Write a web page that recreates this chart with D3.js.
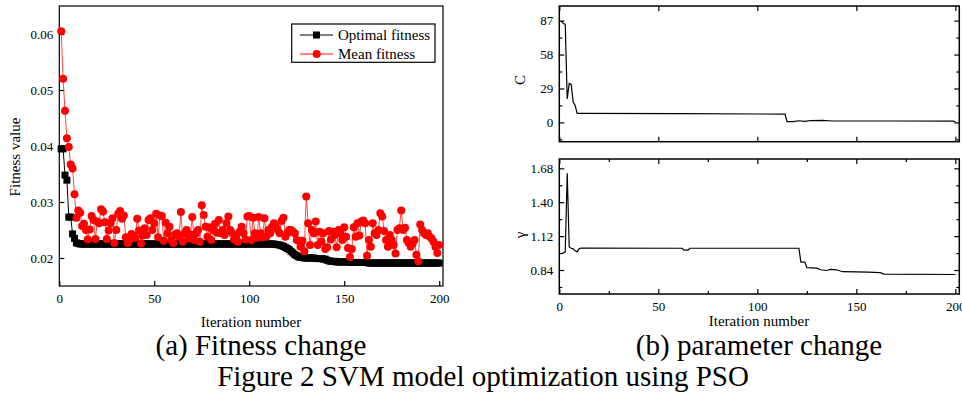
<!DOCTYPE html>
<html>
<head>
<meta charset="utf-8">
<script src="https://cdnjs.cloudflare.com/ajax/libs/d3/7.8.5/d3.min.js"></script>
<style>
  body { margin: 0; background: #fff; }
  svg { display: block; font-family: "Liberation Serif", "Times New Roman", serif; }
</style>
</head>
<body>
<svg id="fig" width="962" height="399"></svg>
<script>
// ---- data ----
var iterTicks = [0, 50, 100, 150, 200];
var fitTicks = [0.02, 0.03, 0.04, 0.05, 0.06];
var cTicks = [0, 29, 58, 87];
var cMinor = [-14.5, 14.5, 43.5, 72.5];
var gTicks = [0.84, 1.12, 1.40, 1.68];
var gMinor = [0.70, 0.98, 1.26, 1.54];
var iterMinor = [25, 75, 125, 175];

// optimal fitness, iterations 1..200
var optimal = [
  0.0395,0.0395,0.0348,0.0339,0.0273,0.0273,0.0243,0.0235,0.0227,0.0226,
  0.0225,0.0225,0.0225,0.0225,0.0225,0.0225,0.0225,0.0225,0.0225,0.0225,
  0.0225,0.0225,0.0225,0.0225,0.0225,0.0225,0.0225,0.0225,0.0225,0.0225,
  0.0225,0.0225,0.0225,0.0225,0.0225,0.0225,0.0225,0.0225,0.0225,0.0225,
  0.0225,0.0225,0.0225,0.0225,0.0225,0.0225,0.0225,0.0225,0.0225,0.0225,
  0.0225,0.0225,0.0225,0.0225,0.0225,0.0225,0.0225,0.0225,0.0225,0.0225,
  0.0225,0.0225,0.0225,0.0225,0.0225,0.0225,0.0225,0.0225,0.0225,0.0225,
  0.0225,0.0225,0.0225,0.0225,0.0225,0.0225,0.0225,0.0225,0.0225,0.0225,
  0.0225,0.0225,0.0225,0.0225,0.0225,0.0225,0.0225,0.0225,0.0225,0.0225,
  0.0225,0.0225,0.0225,0.0225,0.0225,0.0225,0.0225,0.0225,0.0225,0.0225,
  0.0225,0.0225,0.0225,0.0225,0.0225,0.0225,0.0225,0.0225,0.0225,0.0225,
  0.0225,0.0225,0.0225,0.0224,0.0224,0.0223,0.0222,0.0221,0.0219,0.0217,
  0.0215,0.0212,0.0209,0.0206,0.0204,0.0202,0.0201,0.0201,0.0200,0.0200,
  0.0200,0.0200,0.0200,0.0200,0.0199,0.0199,0.0199,0.0199,0.0198,0.0198,
  0.0196,0.0195,0.0194,0.0194,0.0194,0.0193,0.0193,0.0193,0.0193,0.0193,
  0.0193,0.0193,0.0193,0.0192,0.0192,0.0192,0.0192,0.0192,0.0192,0.0192,
  0.0192,0.0192,0.0191,0.0191,0.0191,0.0191,0.0191,0.0191,0.0191,0.0191,
  0.0191,0.0191,0.0191,0.0191,0.0191,0.0191,0.0191,0.0191,0.0191,0.0191,
  0.0191,0.0191,0.0191,0.0191,0.0191,0.0191,0.0191,0.0191,0.0191,0.0191,
  0.0191,0.0191,0.0191,0.0191,0.0191,0.0191,0.0191,0.0191,0.0191,0.0191
];

// mean fitness, iterations 1..200
var meanFit = [
  0.0605,0.0520,0.0463,0.0414,0.0398,0.0367,0.0360,0.0314,0.0272,0.0285,
  0.0281,0.0257,0.0261,0.0250,0.0233,0.0251,0.0275,0.0268,0.0234,0.0265,
  0.0262,0.0287,0.0283,0.0264,0.0234,0.0249,0.0262,0.0271,0.0227,0.0250,
  0.0279,0.0284,0.0270,0.0276,0.0237,0.0227,0.0232,0.0243,0.0240,0.0236,
  0.0270,0.0249,0.0226,0.0240,0.0253,0.0241,0.0268,0.0271,0.0250,0.0262,
  0.0279,0.0237,0.0276,0.0275,0.0231,0.0263,0.0244,0.0256,0.0232,0.0227,
  0.0242,0.0244,0.0238,0.0282,0.0229,0.0244,0.0250,0.0235,0.0242,0.0273,
  0.0232,0.0244,0.0250,0.0229,0.0294,0.0277,0.0256,0.0238,0.0255,0.0232,
  0.0250,0.0261,0.0245,0.0268,0.0244,0.0250,0.0241,0.0262,0.0274,0.0250,
  0.0244,0.0233,0.0238,0.0229,0.0247,0.0256,0.0244,0.0233,0.0274,0.0275,
  0.0232,0.0272,0.0244,0.0236,0.0273,0.0244,0.0237,0.0271,0.0238,0.0250,
  0.0244,0.0256,0.0262,0.0256,0.0250,0.0244,0.0266,0.0272,0.0238,0.0244,
  0.0250,0.0250,0.0247,0.0244,0.0232,0.0231,0.0220,0.0231,0.0212,0.0310,
  0.0262,0.0223,0.0250,0.0244,0.0265,0.0223,0.0247,0.0229,0.0244,0.0216,
  0.0219,0.0248,0.0233,0.0247,0.0241,0.0219,0.0250,0.0244,0.0232,0.0255,
  0.0238,0.0218,0.0202,0.0216,0.0255,0.0238,0.0262,0.0240,0.0265,0.0267,
  0.0262,0.0204,0.0232,0.0220,0.0262,0.0244,0.0241,0.0250,0.0280,0.0274,
  0.0248,0.0232,0.0220,0.0241,0.0232,0.0223,0.0208,0.0250,0.0253,0.0285,
  0.0250,0.0254,0.0232,0.0227,0.0220,0.0226,0.0232,0.0206,0.0194,0.0260,
  0.0250,0.0244,0.0241,0.0244,0.0238,0.0235,0.0229,0.0220,0.0209,0.0223
];

// parameter C: [iteration, value]
var cPath = [
  [1,86.7],[2,84.5],[3,84.0],[4,20.0],[5,33.3],[6,32.5],[7,17.6],[8,14.5],[9,7.7],
  [10,7.7],[60,7.5],[114,7.1],[115,0.6],[118,0.6],[121,1.4],[124,0.8],[127,1.6],
  [133,1.7],[138,1.2],[170,1.2],[199,1.1],[200,0.3]
];

// parameter gamma: [iteration, value]
var gPath = [
  [1,0.977],[2,0.980],[3,0.990],[4,1.640],[5,1.030],[6,1.020],[7,1.015],[8,1.000],
  [9,0.990],[10,1.015],[11,1.022],[62,1.020],[63,1.005],[65,1.005],[66,1.020],
  [121,1.020],[122,0.905],[124,0.905],[125,0.860],[130,0.855],[132,0.842],
  [135,0.836],[137,0.845],[140,0.842],[143,0.826],[150,0.824],[156,0.822],
  [162,0.818],[164,0.806],[200,0.803]
];

var svg = d3.select("#fig");

// ---------- (a) fitness ----------
var x1 = d3.scaleLinear().domain([0, 202]).range([59.3, 443]);
var y1 = d3.scaleLinear().domain([0.015, 0.065]).range([286, 6]);

var ga = svg.append("g");

ga.append("g")
  .attr("transform", "translate(0,286)")
  .call(d3.axisBottom(x1).tickValues(iterTicks).tickSizeInner(-5).tickSizeOuter(0).tickPadding(8))
  .call(styleAxis);

ga.append("g")
  .attr("transform", "translate(59.3,0)")
  .call(d3.axisLeft(y1).tickValues(fitTicks).tickFormat(d3.format(".2f")).tickSizeInner(-5).tickSizeOuter(0).tickPadding(6))
  .call(styleAxis);

ga.append("rect")
  .attr("x", 59.3).attr("y", 6)
  .attr("width", 443 - 59.3).attr("height", 280)
  .attr("fill", "none").attr("stroke", "#000").attr("stroke-width", 1.2);

var optLine = d3.line().x(function(d, i) { return x1(i + 1); }).y(function(d) { return y1(d); });

ga.append("path").datum(meanFit)
  .attr("d", optLine).attr("fill", "none").attr("stroke", "#ff3030").attr("stroke-width", 0.9);

ga.append("path").datum(optimal)
  .attr("d", optLine).attr("fill", "none").attr("stroke", "#000").attr("stroke-width", 1);

ga.selectAll("rect.opt").data(optimal).enter().append("rect")
  .attr("class", "opt")
  .attr("x", function(d, i) { return x1(i + 1) - 3.5; })
  .attr("y", function(d) { return y1(d) - 3.5; })
  .attr("width", 7).attr("height", 7)
  .attr("fill", "#000");

ga.selectAll("circle.mean").data(meanFit).enter().append("circle")
  .attr("class", "mean")
  .attr("cx", function(d, i) { return x1(i + 1); })
  .attr("cy", function(d) { return y1(d); })
  .attr("r", 4)
  .attr("fill", "#ff0000");

// legend
var lg = ga.append("g");
lg.append("rect").attr("x", 291.7).attr("y", 24).attr("width", 143.3).attr("height", 38.3)
  .attr("fill", "#fff").attr("stroke", "#000").attr("stroke-width", 1.2);
lg.append("line").attr("x1", 300).attr("x2", 333).attr("y1", 35).attr("y2", 35).attr("stroke", "#000");
lg.append("rect").attr("x", 313).attr("y", 31.5).attr("width", 7).attr("height", 7).attr("fill", "#000");
lg.append("text").attr("x", 338).attr("y", 40).attr("font-size", 15).text("Optimal fitness");
lg.append("line").attr("x1", 300).attr("x2", 333).attr("y1", 54).attr("y2", 54).attr("stroke", "#ff6060").attr("stroke-width", 1.5);
lg.append("circle").attr("cx", 316.7).attr("cy", 54).attr("r", 4).attr("fill", "#ff0000");
lg.append("text").attr("x", 338).attr("y", 59).attr("font-size", 15).text("Mean fitness");

ga.append("text").attr("transform", "translate(20,157) rotate(-90)")
  .attr("text-anchor", "middle").attr("font-size", 15).text("Fitness value");
ga.append("text").attr("x", 251).attr("y", 327)
  .attr("text-anchor", "middle").attr("font-size", 15).text("Iteration number");

// ---------- (b) parameters ----------
var x2 = d3.scaleLinear().domain([0, 202]).range([559.3, 959.3]);
var yC = d3.scaleLinear().domain([-16.5, 99.5]).range([141.7, 6]);
var yG = d3.scaleLinear().domain([0.642, 1.757]).range([294, 159]);

var gb = svg.append("g");

function panel(ys, top, bottom, major, minor, fmt, xMinor, showX) {
  var g = gb.append("g");
  // left / right
  g.append("g").attr("transform", "translate(559.3,0)")
    .call(d3.axisLeft(ys).tickValues(major).tickFormat(fmt).tickSizeInner(-5).tickSizeOuter(0).tickPadding(6))
    .call(styleAxis);
  g.append("g").attr("transform", "translate(559.3,0)")
    .call(d3.axisLeft(ys).tickValues(minor).tickFormat("").tickSizeInner(-3).tickSizeOuter(0))
    .call(styleAxis);
  g.append("g").attr("transform", "translate(959.3,0)")
    .call(d3.axisRight(ys).tickValues(major).tickFormat("").tickSizeInner(-5).tickSizeOuter(0))
    .call(styleAxis);
  g.append("g").attr("transform", "translate(959.3,0)")
    .call(d3.axisRight(ys).tickValues(minor).tickFormat("").tickSizeInner(-3).tickSizeOuter(0))
    .call(styleAxis);
  // top / bottom
  g.append("g").attr("transform", "translate(0," + top + ")")
    .call(d3.axisTop(x2).tickValues(iterTicks).tickFormat("").tickSizeInner(-5).tickSizeOuter(0))
    .call(styleAxis);
  g.append("g").attr("transform", "translate(0," + bottom + ")")
    .call(d3.axisBottom(x2).tickValues(iterTicks).tickFormat(showX ? null : "").tickSizeInner(-5).tickSizeOuter(0).tickPadding(8))
    .call(styleAxis);
  if (xMinor) {
    g.append("g").attr("transform", "translate(0," + top + ")")
      .call(d3.axisTop(x2).tickValues(iterMinor).tickFormat("").tickSizeInner(-3).tickSizeOuter(0))
      .call(styleAxis);
    g.append("g").attr("transform", "translate(0," + bottom + ")")
      .call(d3.axisBottom(x2).tickValues(iterMinor).tickFormat("").tickSizeInner(-3).tickSizeOuter(0))
      .call(styleAxis);
  }
  g.append("rect").attr("x", 559.3).attr("y", top).attr("width", 400).attr("height", bottom - top)
    .attr("fill", "none").attr("stroke", "#000").attr("stroke-width", 1.5);
  return g;
}

var pc = panel(yC, 6, 141.7, cTicks, cMinor, d3.format("d"), false, false);
var pg = panel(yG, 159, 294, gTicks, gMinor, d3.format(".2f"), true, true);

var line2C = d3.line().x(function(d) { return x2(d[0]); }).y(function(d) { return yC(d[1]); });
var line2G = d3.line().x(function(d) { return x2(d[0]); }).y(function(d) { return yG(d[1]); });

pc.append("path").datum(cPath).attr("d", line2C)
  .attr("fill", "none").attr("stroke", "#000").attr("stroke-width", 1.2);
pg.append("path").datum(gPath).attr("d", line2G)
  .attr("fill", "none").attr("stroke", "#000").attr("stroke-width", 1.2);

gb.append("text").attr("transform", "translate(525,80) rotate(-90)")
  .attr("text-anchor", "middle").attr("font-size", 15).text("C");
gb.append("text").attr("transform", "translate(525,235) rotate(-90)")
  .attr("text-anchor", "middle").attr("font-size", 15).text("γ");
gb.append("text").attr("x", 759).attr("y", 326)
  .attr("text-anchor", "middle").attr("font-size", 15).text("Iteration number");

// ---------- captions ----------
svg.append("text").attr("x", 261).attr("y", 355).attr("text-anchor", "middle")
  .attr("font-size", 29).text("(a) Fitness change");
svg.append("text").attr("x", 759).attr("y", 355).attr("text-anchor", "middle")
  .attr("font-size", 29).text("(b) parameter change");
svg.append("text").attr("x", 483).attr("y", 386).attr("text-anchor", "middle")
  .attr("font-size", 29).text("Figure 2 SVM model optimization using PSO");

function styleAxis(sel) {
  sel.select(".domain").remove();
  sel.selectAll(".tick line").attr("stroke", "#000").attr("stroke-width", 1.2);
  sel.selectAll(".tick text").attr("font-size", 13).attr("fill", "#000")
    .attr("font-family", "Liberation Serif, Times New Roman, serif");
}
</script>
</body>
</html>
